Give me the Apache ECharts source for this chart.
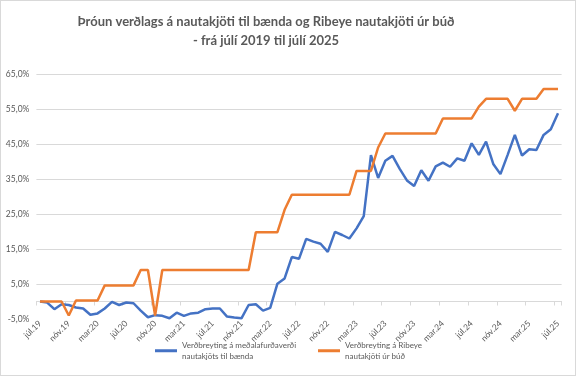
<!DOCTYPE html>
<html><head><meta charset="utf-8">
<script src="https://cdn.jsdelivr.net/npm/echarts@6/dist/echarts.min.js"></script>
<style>
html,body{margin:0;padding:0;background:#fff;}
#wrap{position:relative;width:576px;height:376px;}
#c{position:absolute;left:0;top:0;width:576px;height:376px;}
#b{position:absolute;left:0;top:0;width:576px;height:376px;box-sizing:border-box;border:1px solid #d9d9d9;pointer-events:none;}
</style></head>
<body><div id="wrap"><div id="c"></div><div id="b"></div></div>
<script>
var categories = [
'júl.19','ágú.19','sep.19','okt.19','nóv.19','des.19',
'jan.20','feb.20','mar.20','apr.20','maí.20','jún.20','júl.20','ágú.20','sep.20','okt.20','nóv.20','des.20',
'jan.21','feb.21','mar.21','apr.21','maí.21','jún.21','júl.21','ágú.21','sep.21','okt.21','nóv.21','des.21',
'jan.22','feb.22','mar.22','apr.22','maí.22','jún.22','júl.22','ágú.22','sep.22','okt.22','nóv.22','des.22',
'jan.23','feb.23','mar.23','apr.23','maí.23','jún.23','júl.23','ágú.23','sep.23','okt.23','nóv.23','des.23',
'jan.24','feb.24','mar.24','apr.24','maí.24','jún.24','júl.24','ágú.24','sep.24','okt.24','nóv.24','des.24',
'jan.25','feb.25','mar.25','apr.25','maí.25','jún.25','júl.25'
];
var seriesNames = ['Verðbreyting á meðalafurðaverði\nnautakjöts til bænda', 'Verðbreyting á Ribeye\nnautakjöti úr búð'];
var farmPrice = [
0,-0.3,-2.2,-0.8,-1.0,-1.7,
-2.0,-3.8,-3.4,-2.0,-0.1,-1.0,-0.3,-0.5,-2.6,-4.5,-3.9,-4.1,
-4.8,-3.2,-4.1,-3.4,-3.2,-2.2,-2.0,-2.0,-4.3,-4.6,-4.8,-1.0,
-0.8,-2.6,-1.8,5.1,6.6,12.7,12.2,17.9,17.1,16.5,14.2,19.9,
19.0,18.0,20.9,24.4,41.8,35.3,40.2,41.6,37.9,34.6,33.0,37.5,
34.5,38.6,39.7,38.5,40.9,40.2,45.2,41.9,45.7,39.3,36.4,41.9,
47.6,41.7,43.5,43.3,47.6,49.2,53.8
];
var ribeye = [
0,0,0,0,-4,0.3,
0.3,0.3,0.3,4.6,4.6,4.6,4.6,4.6,9,9,-4,9,
9,9,9,9,9,9,9,9,9,9,9,9,
19.8,19.8,19.8,19.8,26.2,30.5,30.5,30.5,30.5,30.5,30.5,30.5,
30.5,30.5,37.3,37.3,37.3,44,48,48,48,48,48,48,
48,48,52.3,52.3,52.3,52.3,52.3,55.7,57.9,57.9,57.9,57.9,
54.5,57.9,57.9,57.9,60.7,60.7,60.7
];
var yTicks = {min:-5, max:65, interval:10};

var chart = echarts.init(document.getElementById('c'), null, {renderer:'canvas'});
var FONT = 'Lato, "Open Sans", sans-serif';
var grey = '#595959';
var legendBase = {icon:'rect', itemWidth:22, itemHeight:3, itemGap:0, padding:0,
  textStyle:{fontFamily:FONT, fontSize:8, color:grey, lineHeight:10.5, padding:[0,0,10.5,0]}};
chart.setOption({
  animation:false,
  backgroundColor:'#fff',
  title:{
    text:'Þróun verðlags á nautakjöti til bænda og Ribeye nautakjöti úr búð\n- frá júlí 2019 til júlí 2025',
    left:261, top:7, textAlign:'center',
    textStyle:{fontFamily:FONT, fontSize:13, fontWeight:'bold', color:grey, lineHeight:19.5}
  },
  legend:[
    Object.assign({data:[seriesNames[0]], left:155, top:335}, legendBase),
    Object.assign({data:[seriesNames[1]], left:318, top:335}, legendBase)
  ],
  grid:{left:36.4, right:14.4, top:74, bottom:57, containLabel:false},
  xAxis:{
    type:'category', data:categories, boundaryGap:true,
    axisLine:{onZero:true, lineStyle:{color:'#d9d9d9', width:1}},
    axisTick:{show:true, interval:3, length:4, lineStyle:{color:'#d9d9d9'}},
    axisLabel:{interval:3, rotate:45, margin:3, fontFamily:FONT, fontSize:8.5, color:grey},
    splitLine:{show:false}
  },
  yAxis:{
    type:'value', min:yTicks.min, max:yTicks.max, interval:yTicks.interval,
    axisLine:{show:false}, axisTick:{show:false},
    axisLabel:{margin:7, fontFamily:FONT, fontSize:8.5, color:grey,
      formatter:function(v){return v.toFixed(1).replace('.',',')+'%';}},
    splitLine:{show:true, showMinLine:false, lineStyle:{color:'#d9d9d9', width:1}}
  },
  series:[
    {name:seriesNames[0], type:'line', data:farmPrice, symbol:'none', color:'#4472C4',
     lineStyle:{color:'#4472C4', width:2.5}},
    {name:seriesNames[1], type:'line', data:ribeye, symbol:'none', color:'#ED7D31',
     lineStyle:{color:'#ED7D31', width:2.5}}
  ]
});
</script></body></html>
